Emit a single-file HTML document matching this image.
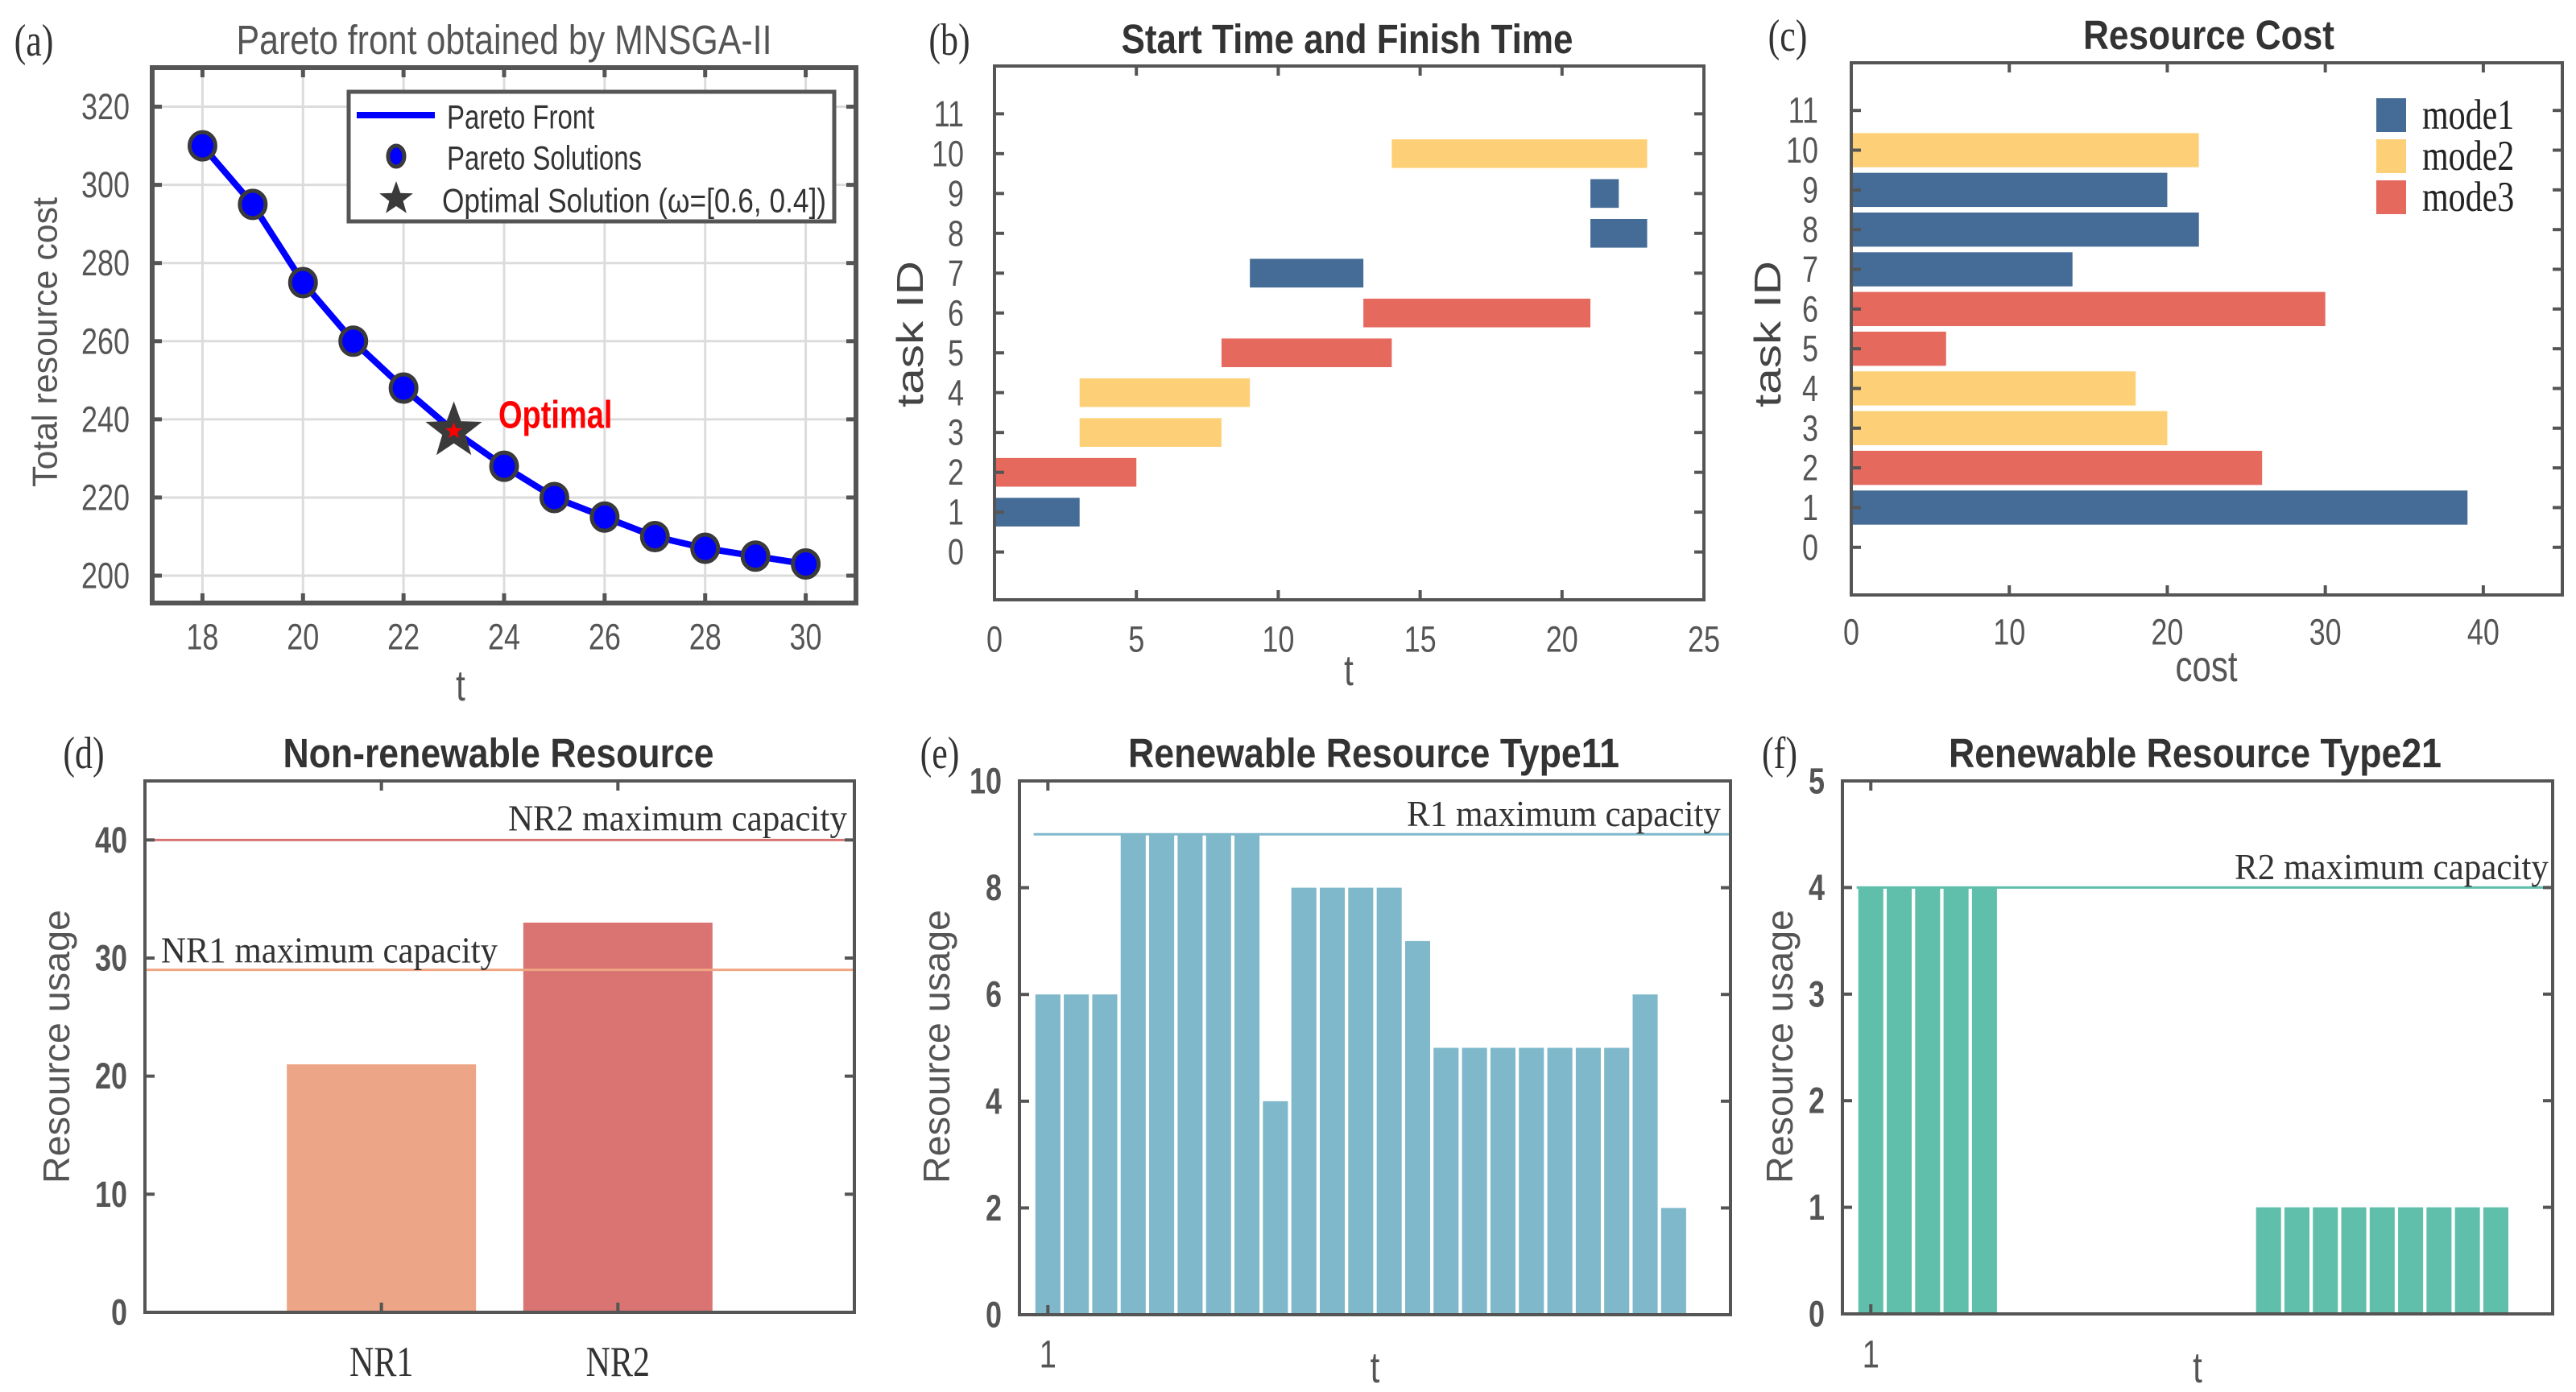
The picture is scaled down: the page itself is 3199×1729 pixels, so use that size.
<!DOCTYPE html>
<html><head><meta charset="utf-8"><title>Scheduling results</title>
<style>
html,body{margin:0;padding:0;background:#fff;}
svg{display:block;}
text{font-family:"Liberation Sans",Arial,sans-serif;}
.serif{font-family:"Liberation Serif","Times New Roman",serif;}
</style></head>
<body>
<svg id="fig" xmlns="http://www.w3.org/2000/svg" width="3199" height="1729" viewBox="0 0 3199 1729"></svg>
<script>
// ---------- data ----------
const paretoT = [18,19,20,21,22,23,24,25,26,27,28,29,30];
const paretoCost = [310,295,275,260,248,237,228,220,215,210,207,205,203];
const optimalT = 23;
const optimalCost = 237;
const aXTicks = [18,20,22,24,26,28,30];
const aYTicks = [200,220,240,260,280,300,320];

const taskIds = [1,2,3,4,5,6,7,8,9,10];
const taskStart = [0,0,3,3,8,13,9,21,21,14];
const taskFinish = [3,5,8,9,14,21,13,23,22,23];
const taskMode = [1,3,2,2,3,3,1,1,1,2];
const taskCost = [39,26,20,18,6,30,14,22,20,22];
const bXTicks = [0,5,10,15,20,25];
const taskTicks = [0,1,2,3,4,5,6,7,8,9,10,11];
const cXTicks = [0,10,20,30,40];
const modeNames = ['mode1','mode2','mode3'];

const nrCategories = ['NR1','NR2'];
const nrUsage = [21,33];
const nrCapacity = [29,40];
const dYTicks = [0,10,20,30,40];

const r1Usage = [6,6,6,9,9,9,9,9,4,8,8,8,8,7,5,5,5,5,5,5,5,6,2];
const r1Capacity = 9;
const eYTicks = [0,2,4,6,8,10];
const r2Usage = [4,4,4,4,4,0,0,0,0,0,0,0,0,0,1,1,1,1,1,1,1,1,1];
const r2Capacity = 4;
const fYTicks = [0,1,2,3,4,5];

// ---------- helpers ----------
const NS = 'http://www.w3.org/2000/svg';
const svg = document.getElementById('fig');
const modeColors = ['#456c96','#fdd077','#e6695e'];
const VS = 1.27;
function mk(parent, tag, attrs, name, inter) {
  const el = document.createElementNS(NS, tag);
  for (const k in attrs) el.setAttribute(k, attrs[k]);
  
  
  parent.appendChild(el);
  return el;
}
function txt(parent, x, y, s, size, opts, name) {
  const a = Object.assign({x:x, y:y, 'font-size':size, fill:'#444', 'dominant-baseline':'central'}, opts||{});
  if (!a.transform) a.transform = 'translate(' + x + ' ' + y + ') scale(1 ' + VS + ') translate(' + (-x) + ' ' + (-y) + ')';
  const t = mk(parent, 'text', a, name, false);
  t.textContent = s;
  return t;
}
function scale(d0, d1, p0, p1) { return v => p0 + (v - d0) * (p1 - p0) / (d1 - d0); }
function frame(g, L, T, R, B, w, name) {
  mk(g, 'rect', {x:L, y:T, width:R-L, height:B-T, fill:'none', stroke:'#555', 'stroke-width':w}, name, false);
}
function yTicksBoth(g, ys, L, R, len, w) {
  ys.forEach(y => {
    mk(g, 'line', {x1:L, y1:y, x2:L+len, y2:y, stroke:'#555', 'stroke-width':w}, 'y-tick-left', false);
    mk(g, 'line', {x1:R, y1:y, x2:R-len, y2:y, stroke:'#555', 'stroke-width':w}, 'y-tick-right', false);
  });
}
function xTicksBoth(g, xs, T, B, len, w) {
  xs.forEach(x => {
    mk(g, 'line', {x1:x, y1:B, x2:x, y2:B-len, stroke:'#555', 'stroke-width':w}, 'x-tick-bottom', false);
    mk(g, 'line', {x1:x, y1:T, x2:x, y2:T+len, stroke:'#555', 'stroke-width':w}, 'x-tick-top', false);
  });
}
function starPts(cx, cy, ro, ri) {
  let p = [];
  for (let i = 0; i < 10; i++) {
    const r = i % 2 ? ri : ro;
    const a = -Math.PI/2 + i * Math.PI/5;
    p.push((cx + r*Math.cos(a)).toFixed(1) + ',' + (cy + r*Math.sin(a)).toFixed(1));
  }
  return p.join(' ');
}

// ---------- panel a ----------
(function(){
  const g = mk(svg, 'g', {}, 'panel-a-pareto', false);
  const L=189, R=1063, T=84, B=749;
  const x = scale(17, 31, L, R), y = scale(193, 330, B, T);
  txt(g, 42, 50, '(a)', 44, {'text-anchor':'middle', 'class':'serif', fill:'#333'}, 'panel-label-a');
  txt(g, 626, 50, 'Pareto front obtained by MNSGA-II', 40, {'text-anchor':'middle', fill:'#555', textLength:665, lengthAdjust:'spacingAndGlyphs'}, 'chart-title-a');
  aXTicks.forEach(v => mk(g, 'line', {x1:x(v), y1:T, x2:x(v), y2:B, stroke:'#dcdcdc', 'stroke-width':3}, 'grid-line-x', false));
  aYTicks.forEach(v => mk(g, 'line', {x1:L, y1:y(v), x2:R, y2:y(v), stroke:'#dcdcdc', 'stroke-width':3}, 'grid-line-y', false));
  mk(g, 'rect', {x:L, y:T, width:R-L, height:B-T, fill:'none', stroke:'#555', 'stroke-width':6}, 'plot-frame-a', false);
  xTicksBoth(g, aXTicks.map(x), T, B, 12, 5);
  yTicksBoth(g, aYTicks.map(y), L, R, 12, 5);
  aXTicks.forEach(v => txt(g, x(v), 791, String(v), 36, {'text-anchor':'middle', fill:'#555'}, 'x-tick-label'));
  aYTicks.forEach(v => txt(g, 161, y(v), String(v), 36, {'text-anchor':'end', fill:'#555'}, 'y-tick-label'));
  txt(g, 572, 853, 't', 42, {'text-anchor':'middle', fill:'#555'}, 'x-axis-title-a');
  txt(g, 56, 425, 'Total resource cost', 44, {'text-anchor':'middle', fill:'#555', textLength:360, lengthAdjust:'spacingAndGlyphs', transform:'rotate(-90 56 425)'}, 'y-axis-title-a');
  const pts = paretoT.map((t,i) => x(t).toFixed(1) + ',' + y(paretoCost[i]).toFixed(1)).join(' ');
  mk(g, 'polyline', {points:pts, fill:'none', stroke:'#0000ff', 'stroke-width':8, 'stroke-linejoin':'round'}, 'pareto-front-line', false);
  paretoT.forEach((t,i) => {
    if (t === optimalT) return;
    mk(g, 'ellipse', {cx:x(t), cy:y(paretoCost[i]), rx:16, ry:17, fill:'#0000ff', stroke:'#3a3a3a', 'stroke-width':5}, 'pareto-solution-point', true);
  });
  mk(g, 'polygon', {points:starPts(x(optimalT), y(optimalCost), 34, 14), fill:'#3a3a3a', stroke:'#3a3a3a', 'stroke-width':2}, 'optimal-solution-star', true);
  mk(g, 'polygon', {points:starPts(x(optimalT), y(optimalCost), 11, 4.5), fill:'#ff0000'}, 'optimal-star-center', false);
  txt(g, 619, 516, 'Optimal', 38, {fill:'#ff0000', 'font-weight':'bold'}, 'optimal-annotation');
  const lg = mk(g, 'g', {}, 'legend-a', false);
  mk(lg, 'rect', {x:433, y:114, width:603, height:161, fill:'#fff', stroke:'#555', 'stroke-width':5}, 'legend-box', false);
  mk(lg, 'line', {x1:443, y1:143, x2:540, y2:143, stroke:'#0000ff', 'stroke-width':8}, 'legend-line-swatch', false);
  txt(lg, 555, 145, 'Pareto Front', 33, {fill:'#333'}, 'legend-entry-pareto-front');
  mk(lg, 'ellipse', {cx:492, cy:194, rx:10, ry:13, fill:'#0000ff', stroke:'#3a3a3a', 'stroke-width':5}, 'legend-circle-swatch', false);
  txt(lg, 555, 196, 'Pareto Solutions', 33, {fill:'#333'}, 'legend-entry-pareto-solutions');
  mk(lg, 'polygon', {points:starPts(492, 247, 22, 9), fill:'#3a3a3a'}, 'legend-star-swatch', false);
  txt(lg, 549, 249, 'Optimal Solution (ω=[0.6, 0.4])', 33, {fill:'#333', textLength:477, lengthAdjust:'spacingAndGlyphs'}, 'legend-entry-optimal');
})();

// ---------- panel b ----------
(function(){
  const g = mk(svg, 'g', {}, 'panel-b-gantt', false);
  const L=1235, R=2116, T=82, B=745;
  const x = scale(0, 25, L, R), y = scale(-1.2, 12.2, B, T);
  txt(g, 1179, 49, '(b)', 44, {'text-anchor':'middle', 'class':'serif', fill:'#333'}, 'panel-label-b');
  txt(g, 1673, 49, 'Start Time and Finish Time', 40, {'text-anchor':'middle', fill:'#333', 'font-weight':'bold', textLength:561, lengthAdjust:'spacingAndGlyphs'}, 'chart-title-b');
  taskIds.forEach((id,i) => {
    const h = y(0) - y(0.72);
    mk(g, 'rect', {x:x(taskStart[i]), y:y(id) - h/2, width:x(taskFinish[i]) - x(taskStart[i]), height:h, fill:modeColors[taskMode[i]-1]}, 'gantt-bar-task-' + id, true);
  });
  frame(g, L, T, R, B, 4, 'plot-frame-b');
  xTicksBoth(g, bXTicks.map(x), T, B, 12, 4);
  yTicksBoth(g, taskTicks.map(y), L, R, 12, 4);
  bXTicks.forEach(v => txt(g, x(v), 794, String(v), 36, {'text-anchor':'middle', fill:'#555'}, 'x-tick-label'));
  taskTicks.forEach(v => txt(g, 1197, y(v), String(v), 36, {'text-anchor':'end', fill:'#555'}, 'y-tick-label'));
  txt(g, 1675, 834, 't', 42, {'text-anchor':'middle', fill:'#555'}, 'x-axis-title-b');
  txt(g, 1130, 415, 'task ID', 46, {'text-anchor':'middle', fill:'#444', textLength:182, lengthAdjust:'spacingAndGlyphs', transform:'rotate(-90 1130 415)'}, 'y-axis-title-b');
})();

// ---------- panel c ----------
(function(){
  const g = mk(svg, 'g', {}, 'panel-c-cost', false);
  const L=2299, R=3182, T=78, B=739;
  const x = scale(0, 45, L, R), y = scale(-1.2, 12.2, B, T);
  txt(g, 2220, 44, '(c)', 44, {'text-anchor':'middle', 'class':'serif', fill:'#333'}, 'panel-label-c');
  txt(g, 2743, 44, 'Resource Cost', 40, {'text-anchor':'middle', fill:'#333', 'font-weight':'bold', textLength:312, lengthAdjust:'spacingAndGlyphs'}, 'chart-title-c');
  taskIds.forEach((id,i) => {
    const h = y(0) - y(0.86);
    mk(g, 'rect', {x:x(0), y:y(id) - h/2, width:x(taskCost[i]) - x(0), height:h, fill:modeColors[taskMode[i]-1]}, 'cost-bar-task-' + id, true);
  });
  frame(g, L, T, R, B, 4, 'plot-frame-c');
  xTicksBoth(g, cXTicks.map(x), T, B, 12, 4);
  yTicksBoth(g, taskTicks.map(y), L, R, 12, 4);
  cXTicks.forEach(v => txt(g, x(v), 785, String(v), 36, {'text-anchor':'middle', fill:'#555'}, 'x-tick-label'));
  taskTicks.forEach(v => txt(g, 2258, y(v), String(v), 36, {'text-anchor':'end', fill:'#555'}, 'y-tick-label'));
  txt(g, 2740, 829, 'cost', 42, {'text-anchor':'middle', fill:'#555'}, 'x-axis-title-c');
  txt(g, 2195, 415, 'task ID', 46, {'text-anchor':'middle', fill:'#444', textLength:182, lengthAdjust:'spacingAndGlyphs', transform:'rotate(-90 2195 415)'}, 'y-axis-title-c');
  const legY = [143, 194, 245];
  modeNames.forEach((m,i) => {
    mk(g, 'rect', {x:2951, y:legY[i]-21, width:37, height:42, fill:modeColors[i]}, 'legend-swatch-' + m, false);
    txt(g, 3008, legY[i], m, 42, {'class':'serif', fill:'#222'}, 'legend-entry-' + m);
  });
})();

// ---------- panel d ----------
(function(){
  const g = mk(svg, 'g', {}, 'panel-d-nonrenewable', false);
  const L=180, R=1061, T=970, B=1630;
  const x = scale(0, 3, L, R), y = scale(0, 45, B, T);
  const colors = ['#eda587','#d97472'];
  txt(g, 104, 935, '(d)', 44, {'text-anchor':'middle', 'class':'serif', fill:'#333'}, 'panel-label-d');
  txt(g, 619, 936, 'Non-renewable Resource', 40, {'text-anchor':'middle', fill:'#333', 'font-weight':'bold', textLength:535, lengthAdjust:'spacingAndGlyphs'}, 'chart-title-d');
  nrCategories.forEach((c,i) => {
    mk(g, 'rect', {x:x(i+1-0.4), y:y(nrUsage[i]), width:x(0.8)-x(0), height:y(0)-y(nrUsage[i]), fill:colors[i]}, 'bar-' + c.toLowerCase(), true);
  });
  mk(g, 'line', {x1:L, y1:y(nrCapacity[1]), x2:R, y2:y(nrCapacity[1]), stroke:'#d97472', 'stroke-width':3}, 'nr2-capacity-line', false);
  mk(g, 'line', {x1:L, y1:y(nrCapacity[0]), x2:R, y2:y(nrCapacity[0]), stroke:'#f0a582', 'stroke-width':3}, 'nr1-capacity-line', false);
  txt(g, 1052, 1016, 'NR2 maximum capacity', 36, {'text-anchor':'end', 'class':'serif', fill:'#333', textLength:421, lengthAdjust:'spacingAndGlyphs'}, 'nr2-capacity-label');
  txt(g, 200, 1180, 'NR1 maximum capacity', 36, {'class':'serif', fill:'#333', textLength:418, lengthAdjust:'spacingAndGlyphs'}, 'nr1-capacity-label');
  frame(g, L, T, R, B, 4, 'plot-frame-d');
  xTicksBoth(g, [1,2].map(x), T, B, 12, 4);
  yTicksBoth(g, dYTicks.map(y), L, R, 12, 4);
  nrCategories.forEach((c,i) => txt(g, x(i+1), 1692, c, 42, {'text-anchor':'middle', 'class':'serif', fill:'#333'}, 'x-tick-label-' + c.toLowerCase()));
  dYTicks.forEach(v => txt(g, 158, y(v), String(v), 36, {'text-anchor':'end', fill:'#555', 'font-weight':'bold'}, 'y-tick-label'));
  txt(g, 70, 1300, 'Resource usage', 46, {'text-anchor':'middle', fill:'#555', textLength:340, lengthAdjust:'spacingAndGlyphs', transform:'rotate(-90 70 1300)'}, 'y-axis-title-d');
})();

// ---------- panels e and f ----------
function renewable(cfg) {
  const g = mk(svg, 'g', {}, cfg.name, false);
  const L=cfg.L, R=cfg.R, T=970, B=cfg.B;
  const x = scale(0, 25, L, R), y = scale(0, cfg.yMax, B, T);
  txt(g, cfg.labX, 935, cfg.label, 44, {'text-anchor':'middle', 'class':'serif', fill:'#333'}, 'panel-label-' + cfg.id);
  txt(g, cfg.titleX, 936, cfg.title, 40, {'text-anchor':'middle', fill:'#333', 'font-weight':'bold', textLength:cfg.titleW, lengthAdjust:'spacingAndGlyphs'}, 'chart-title-' + cfg.id);
  cfg.usage.forEach((v,i) => {
    if (v <= 0) return;
    mk(g, 'rect', {x:x(i+1-0.44), y:y(v), width:x(0.88)-x(0), height:y(0)-y(v), fill:cfg.color}, 'usage-bar-t' + (i+1), true);
  });
  mk(g, 'line', {x1:x(0.5), y1:y(cfg.cap), x2:R, y2:y(cfg.cap), stroke:cfg.color, 'stroke-width':3}, 'capacity-line-' + cfg.id, false);
  txt(g, cfg.capTextX, y(cfg.cap) - 26, cfg.capText, 36, {'text-anchor':'end', 'class':'serif', fill:'#333', textLength:cfg.capTextW, lengthAdjust:'spacingAndGlyphs'}, 'capacity-label-' + cfg.id);
  frame(g, L, T, R, B, 4, 'plot-frame-' + cfg.id);
  xTicksBoth(g, [x(1)], T, B, 12, 4);
  yTicksBoth(g, cfg.ticks.map(y), L, R, 12, 4);
  txt(g, x(1), 1683, '1', 38, {'text-anchor':'middle', fill:'#555'}, 'x-tick-label');
  cfg.ticks.forEach(v => txt(g, L - 22, y(v), String(v), 36, {'text-anchor':'end', fill:'#555', 'font-weight':'bold'}, 'y-tick-label'));
  txt(g, (L+R)/2, 1700, 't', 42, {'text-anchor':'middle', fill:'#555'}, 'x-axis-title-' + cfg.id);
  txt(g, cfg.ylabX, 1300, 'Resource usage', 46, {'text-anchor':'middle', fill:'#555', textLength:340, lengthAdjust:'spacingAndGlyphs', transform:'rotate(-90 ' + cfg.ylabX + ' 1300)'}, 'y-axis-title-' + cfg.id);
}
renewable({name:'panel-e-renewable-11', id:'e', L:1266, R:2149, B:1633, yMax:10, usage:r1Usage, cap:r1Capacity, ticks:eYTicks, color:'#7eb8ca',
  label:'(e)', labX:1167, title:'Renewable Resource Type11', titleX:1706, titleW:610, capText:'R1 maximum capacity', capTextX:2137, capTextW:390, ylabX:1163});
renewable({name:'panel-f-renewable-21', id:'f', L:2288, R:3170, B:1632, yMax:5, usage:r2Usage, cap:r2Capacity, ticks:fYTicks, color:'#5fbfab',
  label:'(f)', labX:2210, title:'Renewable Resource Type21', titleX:2726, titleW:612, capText:'R2 maximum capacity', capTextX:3165, capTextW:390, ylabX:2210});
</script>
</body></html>
